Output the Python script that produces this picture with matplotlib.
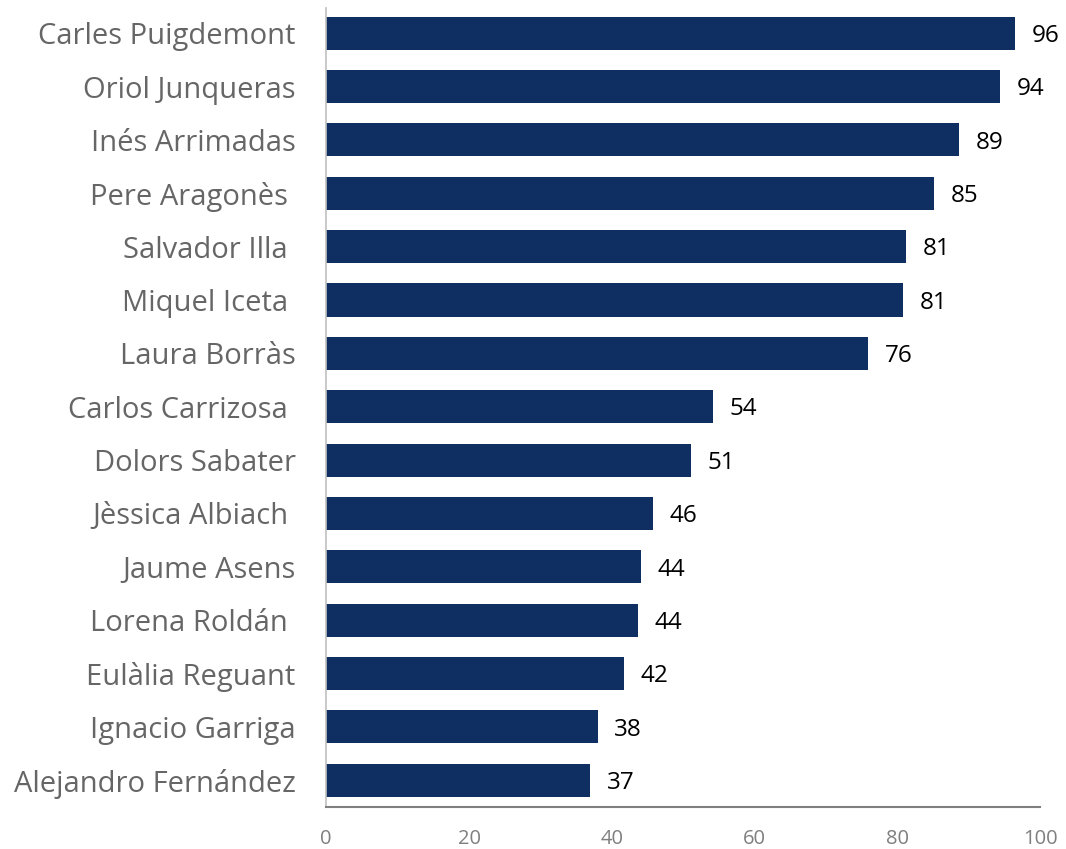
import numpy as np
import matplotlib.pyplot as plt

plt.rcParams['font.family'] = ['Open Sans', 'DejaVu Sans']

# Valoración de líderes políticos
nombres = ['Carles Puigdemont', 'Oriol Junqueras', 'Inés Arrimadas', 'Pere Aragonès ',
           'Salvador Illa ', 'Miquel Iceta ', 'Laura Borràs', 'Carlos Carrizosa ',
           'Dolors Sabater', 'Jèssica Albiach ', 'Jaume Asens', 'Lorena Roldán ',
           'Eulàlia Reguant', 'Ignacio Garriga', 'Alejandro Fernández']
valores = [96.4, 94.3, 88.6, 85.1, 81.2, 80.8, 75.9, 54.1, 51.1, 45.7,
           44.1, 43.6, 41.7, 38.0, 37.0]
ticks_x = [0, 20, 40, 60, 80, 100]

fig = plt.figure(figsize=(10.66, 8.49), dpi=100)
ax = fig.add_axes([0.306, 0.0495, 0.67, 0.941])

y = np.arange(len(nombres))
ax.barh(y, valores, height=0.62, color='#0f2f62')

for yi, v in zip(y, valores):
    ax.annotate(f'{v:.0f}', (v, yi), xytext=(12, -2), textcoords='offset points',
                ha='left', va='center', fontsize=17.5, color='black')

ax.set_yticks(y)
ax.set_yticklabels(nombres, fontsize=21, color='#666666')
ax.set_xticks(ticks_x)
ax.set_xticklabels([str(t) for t in ticks_x], fontsize=14.5, color='#7f7f7f')
ax.set_xlim(0, 100)
ax.set_ylim(len(nombres) - 0.5, -0.47)
ax.tick_params(axis='both', length=0)
ax.tick_params(axis='x', pad=16)
ax.tick_params(axis='y', pad=22)

for s in ['top', 'right']:
    ax.spines[s].set_visible(False)
ax.spines['left'].set_color('#c0c0c0')
ax.spines['bottom'].set_color('#808080')
ax.spines['left'].set_linewidth(1.2)
ax.spines['bottom'].set_linewidth(1.5)

plt.savefig('out.png', dpi=100)
